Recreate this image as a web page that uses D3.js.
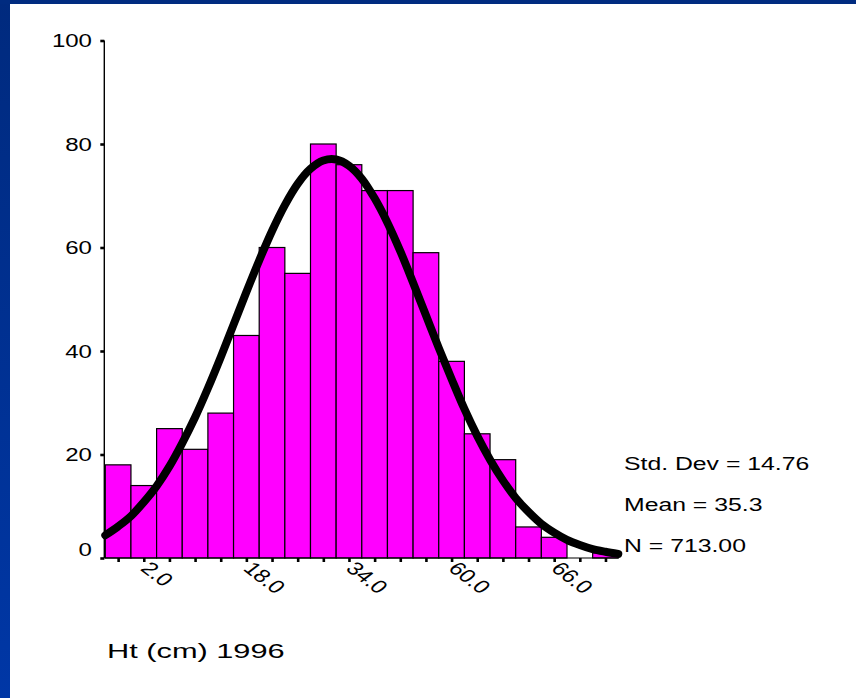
<!DOCTYPE html>
<html>
<head>
<meta charset="utf-8">
<script src="https://cdn.jsdelivr.net/npm/d3@7"></script>
<style>
  html, body { margin: 0; padding: 0; background: #fff; }
  svg { display: block; }
  text { font-family: "Liberation Sans", Arial, sans-serif; fill: #000; }
</style>
</head>
<body>
<div id="chart"></div>
<script>
// histogram bins (4 cm wide), bin centres and counts
const binCenters = [2, 6, 10, 14, 18, 22, 26, 30, 34, 38, 42, 46, 50, 54, 58, 62, 66, 70, 74, 78];
const counts = [18, 14, 25, 21, 28, 43, 60, 55, 80, 76, 71, 71, 59, 38, 24, 19, 6, 4, 0, 1];
const binWidth = 4;

// fitted normal curve, every 2 cm
const curveX = [0, 2, 4, 6, 8, 10, 12, 14, 16, 18, 20, 22, 24, 26, 28, 30, 32, 34, 36, 38,
                40, 42, 44, 46, 48, 50, 52, 54, 56, 58, 60, 62, 64, 66, 68, 70, 72, 74, 76, 78, 80];
const curveY = [4.4, 6.1, 8.1, 10.8, 13.9, 17.7, 22.2, 27.2, 32.8, 38.8, 45.1, 51.4, 57.5, 63.2, 68.2, 72.3, 75.2, 76.8, 77.0, 75.8,
                73.3, 69.5, 64.8, 59.3, 53.2, 46.9, 40.6, 34.6, 28.8, 23.6, 19.0, 15.0, 11.6, 8.9, 6.6, 4.9, 3.5, 2.5, 1.7, 1.2, 0.8];

const yTicks = [0, 20, 40, 60, 80, 100];
const xTickLabels = ["2.0", "18.0", "34.0", "60.0", "66.0"];
const stats = ["Std. Dev = 14.76", "Mean = 35.3", "N = 713.00"];
const title = "Ht (cm) 1996";

const W = 856, H = 698;

const svg = d3.select("#chart").append("svg")
    .attr("width", W)
    .attr("height", H);

// blue slide frame
const grad = svg.append("defs").append("linearGradient")
    .attr("id", "side").attr("x1", 0).attr("y1", 0).attr("x2", 0).attr("y2", 1);
grad.append("stop").attr("offset", "0%").attr("stop-color", "#002a7e");
grad.append("stop").attr("offset", "100%").attr("stop-color", "#0037a6");

svg.append("rect").attr("x", 0).attr("y", 0).attr("width", W).attr("height", H).attr("fill", "#fff");
svg.append("rect").attr("x", 0).attr("y", 0).attr("width", 10).attr("height", H).attr("fill", "url(#side)");
svg.append("rect").attr("x", 0).attr("y", 0).attr("width", W).attr("height", 4).attr("fill", "#002b80");

const x = d3.scaleLinear().domain([0, 80]).range([105.3, 618.3]);
const y = d3.scaleLinear().domain([0, 100]).range([558, 40.5]);

// bars
svg.append("g")
  .selectAll("rect")
  .data(binCenters.filter((c, i) => counts[i] > 0))
  .join("rect")
    .attr("x", d => x(d - binWidth / 2))
    .attr("width", x(binWidth) - x(0))
    .attr("y", d => y(counts[binCenters.indexOf(d)]))
    .attr("height", d => y(0) - y(counts[binCenters.indexOf(d)]))
    .attr("fill", "#ff00ff")
    .attr("stroke", "#000")
    .attr("stroke-width", 1.2);

// y axis
const yAxis = svg.append("g")
    .attr("transform", `translate(${x(0) - 1},0)`)
    .call(d3.axisLeft(y).tickValues(yTicks).tickSize(4).tickFormat(""));
yAxis.select(".domain").attr("stroke-width", 1.4).attr("d", `M0,${y(100)}V${y(0)}`);
yAxis.selectAll(".tick line").attr("stroke-width", 2.6);

svg.append("g")
  .selectAll("text")
  .data(yTicks)
  .join("text")
    .attr("text-anchor", "end")
    .attr("font-size", 18.5)
    .attr("transform", d => `translate(92,${y(d) + (d === 0 ? -2.5 : 6.5)}) scale(1.3,1)`)
    .text(d => d);

// x axis: ticks at every bin centre
const xAxis = svg.append("g")
    .attr("transform", `translate(0,${y(0)})`)
    .call(d3.axisBottom(x).tickValues(binCenters).tickSize(4).tickFormat(""));
xAxis.select(".domain").attr("stroke-width", 1.2).attr("d", `M${x(0) - 1},0H${x(80)}`);
xAxis.selectAll(".tick line").attr("stroke-width", 2.6);

// rotated labels on every fourth tick
const labelTicks = binCenters.filter((c, i) => i % 4 === 1);
svg.append("g")
  .selectAll("text")
  .data(labelTicks)
  .join("text")
    .attr("font-size", 18.5)
    .attr("transform", d => `translate(${x(d) + 8},${y(0) + 2}) scale(1.3,1) rotate(45)`)
    .attr("dy", "0.72em")
    .text((d, i) => xTickLabels[i]);

// normal curve
const line = d3.line()
    .x(d => x(d[0]))
    .y(d => y(d[1]))
    .curve(d3.curveCatmullRom);

svg.append("path")
    .datum(curveX.map((v, i) => [v, curveY[i]]))
    .attr("d", line)
    .attr("fill", "none")
    .attr("stroke", "#000")
    .attr("stroke-width", 8)
    .attr("stroke-linecap", "round")
    .attr("stroke-linejoin", "round");

// statistics
svg.append("g")
  .selectAll("text")
  .data(stats)
  .join("text")
    .attr("font-size", 18.5)
    .attr("transform", (d, i) => `translate(624,${470 + i * 41}) scale(1.34,1)`)
    .text(d => d);

// title
svg.append("text")
    .attr("font-size", 20.5)
    .attr("transform", "translate(107,658) scale(1.5,1)")
    .text(title);
</script>
</body>
</html>
